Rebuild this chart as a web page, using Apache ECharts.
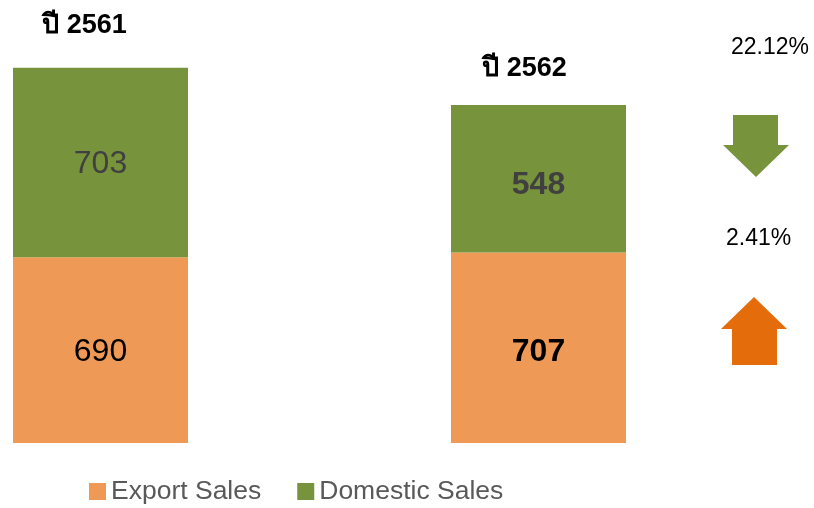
<!DOCTYPE html>
<html>
<head>
<meta charset="utf-8">
<script src="https://cdn.jsdelivr.net/npm/echarts@6/dist/echarts.min.js"></script>
<style>
  html, body { margin: 0; padding: 0; background: #fff; }
  #charts_main { width: 814px; height: 508px; }
</style>
</head>
<body>
<div id="charts_main"></div>
<script>
// ข้อมูล
const years = ['ปี 2561', 'ปี 2562'];
const exportSales = [690, 707];
const domesticSales = [703, 548];
const changeText = ['22.12%', '2.41%'];

const FONT = 'Liberation Sans, Arial, Noto Sans, sans-serif';

function init() {
  let Chart = echarts.init(document.getElementById('charts_main'));

  let option = {
    animation: false,
    textStyle: { fontFamily: FONT },
    grid: { left: 100.5, right: 275.5, top: 12, bottom: 65 },
    legend: {
      data: ['Export Sales', 'Domestic Sales'],
      left: 84,
      top: 473,
      itemWidth: 17,
      itemHeight: 17,
      itemGap: 36,
      itemTextGap: 9,
      icon: 'rect',
      textStyle: { fontSize: 26.5, color: '#595959', fontFamily: FONT }
    },
    xAxis: {
      type: 'category',
      data: years,
      boundaryGap: false,
      show: false
    },
    yAxis: {
      type: 'value',
      min: 0,
      max: 1600,
      show: false
    },
    series: [
      {
        name: 'Export Sales',
        type: 'bar',
        stack: 'total',
        barWidth: 175,
        clip: false,
        itemStyle: { color: '#EE9A56' },
        label: {
          show: true,
          position: 'inside',
          fontSize: 32,
          color: '#000'
        },
        data: exportSales.map((v, i) => ({
          value: v,
          label: { fontWeight: i === 1 ? 'bold' : 'normal', offset: i === 1 ? [0, 4] : [0, 2] }
        }))
      },
      {
        name: 'Domestic Sales',
        type: 'bar',
        stack: 'total',
        barWidth: 175,
        clip: false,
        itemStyle: { color: '#77933C' },
        label: {
          show: true,
          position: 'inside',
          fontSize: 32,
          color: '#404040'
        },
        data: domesticSales.map((v, i) => ({
          value: v,
          label: { fontWeight: i === 1 ? 'bold' : 'normal', offset: i === 1 ? [0, 6] : [0, 2] }
        }))
      },
      {
        name: 'year',
        type: 'bar',
        stack: 'total',
        barWidth: 175,
        clip: false,
        itemStyle: { color: 'transparent' },
        label: {
          show: true,
          position: 'top',
          distance: 0,
          fontSize: 27,
          fontWeight: 'bold',
          color: '#000',
          lineHeight: 30,
          formatter: (p) => p.name
        },
        data: [
          { value: 0, label: { offset: [-16, -27] } },
          { value: 0, label: { offset: [-14, -21] } }
        ]
      }
    ],
    graphic: [
      {
        type: 'text',
        left: 731, top: 36,
        style: { text: changeText[0], fill: '#000', font: '23px ' + FONT }
      },
      {
        type: 'polygon',
        shape: { points: [[733, 115], [778, 115], [778, 145], [789, 145], [756, 177], [723, 145], [733, 145]] },
        style: { fill: '#77933C' }
      },
      {
        type: 'text',
        left: 726, top: 227,
        style: { text: changeText[1], fill: '#000', font: '23px ' + FONT }
      },
      {
        type: 'polygon',
        shape: { points: [[754, 297], [787, 329], [777, 329], [777, 365], [732, 365], [732, 329], [721, 329]] },
        style: { fill: '#E46C0A' }
      }
    ]
  };
  Chart.setOption(option);
}

init();
</script>
</body>
</html>
